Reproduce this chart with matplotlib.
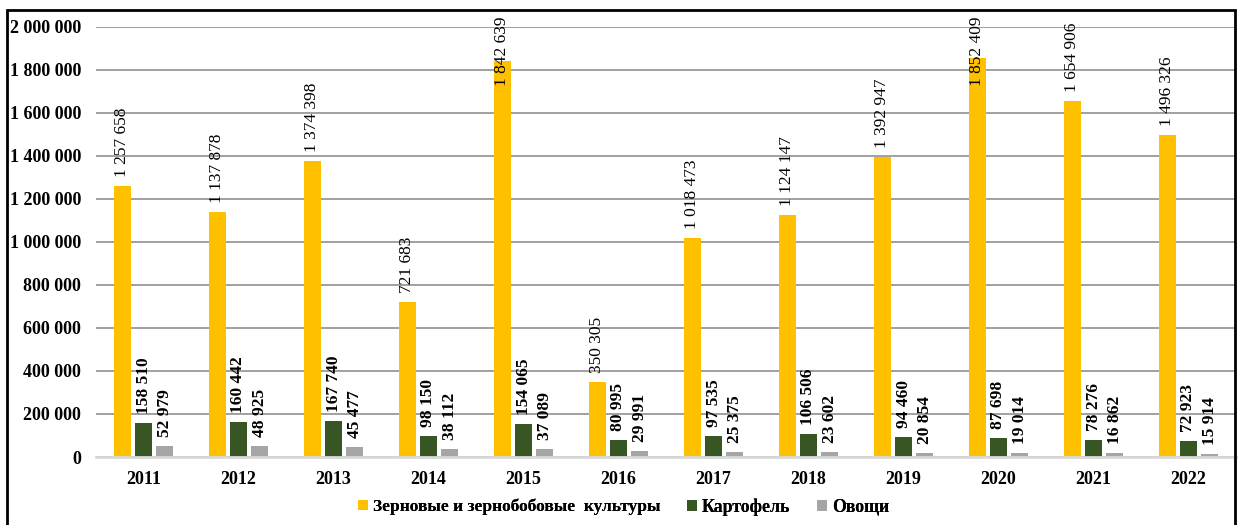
import matplotlib
matplotlib.use("Agg")
import matplotlib.pyplot as plt
from matplotlib.patches import Rectangle
import numpy as np

years = ["2011", "2012", "2013", "2014", "2015", "2016", "2017", "2018", "2019", "2020", "2021", "2022"]
grain = [1257658, 1137878, 1374398, 721683, 1842639, 350305, 1018473, 1124147, 1392947, 1852409, 1654906, 1496326]
potato = [158510, 160442, 167740, 98150, 154065, 80995, 97535, 106506, 94460, 87698, 78276, 72923]
veg = [52979, 48925, 45477, 38112, 37089, 29991, 25375, 23602, 20854, 19014, 16862, 15914]
series_names = ["Зерновые и зернобобовые  культуры", "Картофель", "Овощи"]
colors = ["#FFC000", "#375623", "#A5A5A5"]
yticks = [0, 200000, 400000, 600000, 800000, 1000000, 1200000, 1400000, 1600000, 1800000, 2000000]

plt.rcParams['font.family'] = ['Liberation Serif', 'DejaVu Serif']

W, H = 1239, 525
fig = plt.figure(figsize=(W / 100, H / 100), dpi=100)
ax = fig.add_axes([96 / W, 1 - 457 / H, (1236 - 96) / W, (457 - 26.7) / H])

def fmt(v):
    return f"{v:,}".replace(",", " ")

x = np.arange(len(years))
bw = 0.175
off = 0.222
top_clamp = 2046000
text_h = 325000
handles = []
for i, (vals, col) in enumerate(zip([grain, potato, veg], colors)):
    xs = x + (i - 1) * off
    bars = ax.bar(xs, vals, width=bw, color=col, label=series_names[i], zorder=3)
    handles.append(bars)
    for xi, v in zip(xs, vals):
        weight = 'normal' if i == 0 else 'bold'
        if i == 0 and v + 42000 + text_h > top_clamp:
            ax.text(xi, top_clamp, fmt(v), rotation=90, ha='center', va='top',
                    fontsize=12.5, fontweight=weight, clip_on=False, zorder=5)
        else:
            ax.annotate(fmt(v), (xi, v), xytext=(0, 9), textcoords='offset pixels',
                        rotation=90, ha='center', va='bottom', fontsize=12.5,
                        fontweight=weight, annotation_clip=False, zorder=5)

ax.set_xlim(-0.5, len(years) - 0.5)
ax.set_ylim(0, 2000000)
ax.set_yticks(yticks)
ax.set_yticklabels([fmt(t) for t in yticks], fontsize=13, fontweight='bold')
ax.set_xticks(x)
ax.set_xticklabels(years, fontsize=13, fontweight='bold')
ax.tick_params(axis='both', length=0)
ax.tick_params(axis='y', pad=10.8)
ax.tick_params(axis='x', pad=10)
ax.yaxis.grid(True, color='#999999', linewidth=1.3, zorder=0)
for s in ['left', 'right', 'top']:
    ax.spines[s].set_visible(False)
ax.spines['bottom'].set_color('#D9D9D9')
ax.spines['bottom'].set_linewidth(2)
ax.spines['bottom'].set_zorder(4)

leg_x = [358, 687, 817]
leg_size = [12.5, 12.8, 12.8]
for h, name, lx, sz in zip(handles, series_names, leg_x, leg_size):
    lg = fig.legend([h], [name], loc='center left', bbox_to_anchor=(lx / W, 1 - 507 / H),
                    frameon=False, prop={'size': sz, 'weight': 'bold'},
                    handlelength=0.55, handleheight=0.55, handletextpad=0.3,
                    borderpad=0, borderaxespad=0)
    fig.add_artist(lg)

fig.patches.append(Rectangle((7 / W, -0.1), (1235 - 7) / W, 1 - 10 / H + 0.1,
                             transform=fig.transFigure, fill=False, edgecolor='black',
                             linewidth=2, zorder=10))

fig.savefig("out.png", dpi=100)
